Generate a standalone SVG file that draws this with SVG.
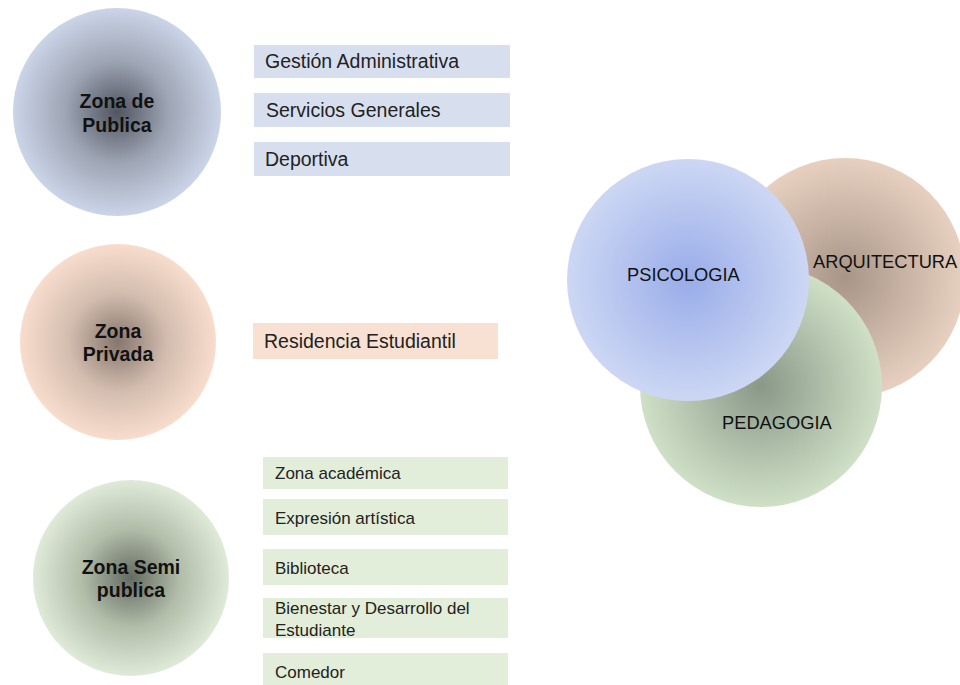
<svg xmlns="http://www.w3.org/2000/svg" width="960" height="685" viewBox="0 0 960 685">
<defs>
<radialGradient id="gPub"><stop offset="0" stop-color="#50555f"/><stop offset="0.5" stop-color="#9ea5b4"/><stop offset="1" stop-color="#cbd5e8"/></radialGradient>
<radialGradient id="gPriv"><stop offset="0" stop-color="#85766e"/><stop offset="0.5" stop-color="#d3bcae"/><stop offset="1" stop-color="#f8ddcd"/></radialGradient>
<radialGradient id="gSemi"><stop offset="0" stop-color="#646b60"/><stop offset="0.5" stop-color="#b1bca9"/><stop offset="1" stop-color="#e0ead9"/></radialGradient>
<radialGradient id="gPsi"><stop offset="0" stop-color="#98ace8"/><stop offset="1" stop-color="#cdd7f4"/></radialGradient>
<radialGradient id="gArq"><stop offset="0" stop-color="#a89587"/><stop offset="1" stop-color="#e7d0c0"/></radialGradient>
<radialGradient id="gPed"><stop offset="0" stop-color="#8a9888"/><stop offset="1" stop-color="#cfe0c7"/></radialGradient>
</defs>
<style>
.zl{font-family:"Liberation Sans",Arial,sans-serif;font-weight:bold;font-size:19.5px;fill:#111;text-anchor:middle}
.it{font-family:"Liberation Sans",Arial,sans-serif;font-size:19.5px;fill:#222}
.is{font-family:"Liberation Sans",Arial,sans-serif;font-size:17px;fill:#222}
.vl{font-family:"Liberation Sans",Arial,sans-serif;font-size:18.3px;fill:#111}
.rb{fill:#d7dfef}
.rp{fill:#f8e1d3}
.rg{fill:#e2edda}
</style>
<rect width="960" height="685" fill="#ffffff"/>
<g id="zona-publica">
<circle cx="117" cy="112" r="104" fill="url(#gPub)"/>
<text class="zl" x="117" y="108">Zona de</text>
<text class="zl" x="117" y="132">Publica</text>
</g>
<g id="gestion"><rect class="rb" x="254" y="45" width="256" height="33"/><text class="it" x="265" y="68">Gestión Administrativa</text></g>
<g id="servicios"><rect class="rb" x="254" y="93" width="256" height="34"/><text class="it" x="266" y="117">Servicios Generales</text></g>
<g id="deportiva"><rect class="rb" x="254" y="142" width="256" height="34"/><text class="it" x="265" y="166">Deportiva</text></g>
<g id="zona-privada">
<circle cx="118" cy="342" r="98" fill="url(#gPriv)"/>
<text class="zl" x="118" y="338">Zona</text>
<text class="zl" x="118" y="361">Privada</text>
</g>
<g id="residencia"><rect class="rp" x="253" y="323" width="245" height="36"/><text class="it" x="264" y="348">Residencia Estudiantil</text></g>
<g id="zona-semi">
<circle cx="131" cy="578" r="98" fill="url(#gSemi)"/>
<text class="zl" x="131" y="574">Zona Semi</text>
<text class="zl" x="131" y="597">publica</text>
</g>
<g id="academica"><rect class="rg" x="263" y="457" width="245" height="32"/><text class="is" x="275" y="479">Zona académica</text></g>
<g id="expresion"><rect class="rg" x="263" y="499" width="245" height="36"/><text class="is" x="275" y="524">Expresión artística</text></g>
<g id="biblioteca"><rect class="rg" x="263" y="549" width="245" height="36"/><text class="is" x="275" y="574">Biblioteca</text></g>
<g id="bienestar"><rect class="rg" x="263" y="598" width="245" height="40"/><text class="is" x="275" y="614">Bienestar y Desarrollo del</text><text class="is" x="275" y="636">Estudiante</text></g>
<g id="comedor"><rect class="rg" x="263" y="653" width="245" height="32"/><text class="is" x="275" y="678">Comedor</text></g>
<g id="arquitectura"><circle cx="845" cy="278" r="120" fill="url(#gArq)"/><text class="vl" x="813" y="268">ARQUITECTURA</text></g>
<g id="pedagogia"><circle cx="761" cy="386" r="121" fill="url(#gPed)"/><text class="vl" x="722" y="429">PEDAGOGIA</text></g>
<g id="psicologia"><circle cx="688" cy="280" r="121" fill="url(#gPsi)"/><text class="vl" x="627" y="281">PSICOLOGIA</text></g>
<g id="connectors"/>
</svg>
